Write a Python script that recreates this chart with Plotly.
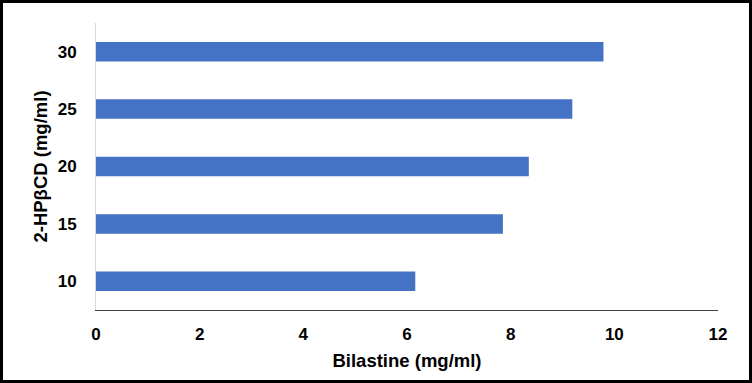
import plotly.graph_objects as go

categories = ["10", "15", "20", "25", "30"]
bilastine = [6.16, 7.85, 8.35, 9.19, 9.79]
x_ticks = [0, 2, 4, 6, 8, 10, 12]

W, H = 752, 383
ML, MR, MT, MB = 96, 34, 23, 73
PW, PH = W - ML - MR, H - MT - MB
BOTTOM = H - MB  # pixel row of plot-area bottom

fig = go.Figure(go.Bar(
    x=bilastine, y=categories, orientation="h",
    marker=dict(color="#4472C4", line=dict(width=0)),
))

font = dict(family="Liberation Sans, Arial", size=17, color="#000000", weight="bold")
title_font = dict(family="Liberation Sans, Arial", size=18.5, color="#000000", weight="bold")

fig.update_layout(
    width=W, height=H,
    margin=dict(l=ML, r=MR, t=MT, b=MB, autoexpand=False),
    paper_bgcolor="white", plot_bgcolor="white",
    bargap=0.66,
    showlegend=False,
    font=font,
    xaxis=dict(
        range=[0, 12], tickvals=x_ticks, ticktext=[str(v) for v in x_ticks],
        showgrid=False, zeroline=False,
        showline=True, linecolor="#404040", linewidth=1,
        ticks="", tickfont=font, ticklabelstandoff=9,
        title=dict(text="Bilastine (mg/ml)", font=title_font, standoff=10),
        automargin=False,
    ),
    yaxis=dict(
        type="category", categoryorder="array", categoryarray=categories,
        showgrid=False, zeroline=False,
        showline=True, linecolor="#d9d9d9", linewidth=1,
        ticks="", tickfont=font, ticklabelstandoff=15,
        title=dict(text="2-HPβCD (mg/ml)", font=title_font, standoff=5),
        automargin=False,
    ),
    shapes=[dict(
        type="rect", xref="paper", yref="paper",
        x0=(1.5 - ML) / PW, x1=(W - 1.5 - ML) / PW,
        y0=(BOTTOM - (H - 1.5)) / PH, y1=(BOTTOM - 1.5) / PH,
        line=dict(color="black", width=3), fillcolor="rgba(0,0,0,0)",
        layer="above",
    )],
)

fig.write_html(
    "out.html",
    config={"displayModeBar": False},
    post_script="document.body.style.margin='0';document.body.style.padding='0';",
)
